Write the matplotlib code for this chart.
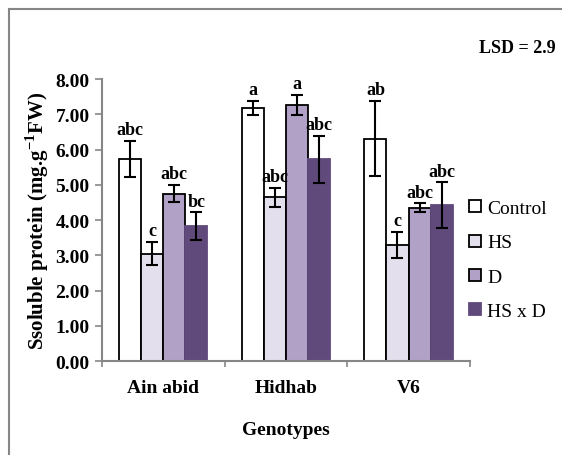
import matplotlib
matplotlib.use("Agg")
import matplotlib.pyplot as plt
from matplotlib.lines import Line2D
import numpy as np

plt.rcParams['font.family'] = ['Liberation Serif', 'DejaVu Serif']
plt.rcParams['mathtext.fontset'] = 'custom'
plt.rcParams['mathtext.rm'] = 'Liberation Serif'
plt.rcParams['mathtext.bf'] = 'Liberation Serif:bold'

genotypes = ["Ain abid", "Hidhab", "V6"]
treatments = ["Control", "HS", "D", "HS x D"]
values = {
    "Control": [5.73, 7.18, 6.31],
    "HS": [3.05, 4.64, 3.30],
    "D": [4.75, 7.27, 4.35],
    "HS x D": [3.82, 5.72, 4.42],
}
errors = {
    "Control": [0.52, 0.20, 1.07],
    "HS": [0.32, 0.27, 0.37],
    "D": [0.24, 0.28, 0.12],
    "HS x D": [0.40, 0.66, 0.65],
}
letters = {
    "Control": ["abc", "a", "ab"],
    "HS": ["c", "abc", "c"],
    "D": ["abc", "a", "abc"],
    "HS x D": ["bc", "abc", "abc"],
}
yticks = [0, 1, 2, 3, 4, 5, 6, 7, 8]
lsd_text = "LSD = 2.9"

colors = {"Control": "#FFFFFF", "HS": "#E4DFEC", "D": "#B2A1C7", "HS x D": "#604A7B"}
edges = {"Control": "black", "HS": "black", "D": "black", "HS x D": "#604A7B"}

fig = plt.figure(figsize=(5.62, 4.56), dpi=100)
ax = fig.add_axes([0.1815, 0.206, 0.6545, 0.6185])

x = np.arange(len(genotypes))
w = 0.18
for k, t in enumerate(treatments):
    xpos = x + (k - 1.5) * w
    ax.bar(xpos, values[t], width=w, color=colors[t], edgecolor=edges[t],
           linewidth=1.3, zorder=2)
    ax.errorbar(xpos, values[t], yerr=errors[t], fmt='none', ecolor='black',
                elinewidth=1.5, capsize=4.5, capthick=1.5, zorder=3)
    for xi, v, e, lab in zip(xpos, values[t], errors[t], letters[t]):
        ax.annotate(lab, (xi, v + e), xytext=(0, 2), textcoords='offset points',
                    ha='center', va='bottom', fontsize=13, fontweight='bold',
                    annotation_clip=False, zorder=4)

ax.set_xlim(-0.5, len(genotypes) - 0.5)
ax.set_ylim(0, 8)
ax.set_yticks(yticks)
ax.set_yticklabels([f"{v:.2f}" for v in yticks], fontsize=14, fontweight='bold')
ax.set_xticks(np.arange(-0.5, len(genotypes), 1.0))
ax.set_xticklabels([])
ax.set_xticks(x, minor=True)
ax.set_xticklabels(genotypes, minor=True, fontsize=14, fontweight='bold')
ax.tick_params(axis='x', which='major', length=4, color='#868686', width=1.2)
ax.tick_params(axis='x', which='minor', length=0, pad=13)
ax.tick_params(axis='y', length=5, color='#868686', width=1.2, pad=4)
for s in ['top', 'right']:
    ax.spines[s].set_visible(False)
for s in ['left', 'bottom']:
    ax.spines[s].set_color('#868686')
    ax.spines[s].set_linewidth(1.5)

ax.set_ylabel(r"Ssoluble protein (mg.g$^{\mathbf{-1}}$FW)", fontsize=15,
              fontweight='bold', labelpad=3)
ax.set_xlabel("Genotypes", fontsize=14, fontweight='bold', labelpad=18)

handles = [Line2D([0], [0], marker='s', linestyle='none', markersize=8,
                  markerfacecolor=colors[t],
                  markeredgecolor='black' if t != "HS x D" else colors[t],
                  markeredgewidth=1.3) for t in treatments]
fig.legend(handles, treatments, loc='upper left', bbox_to_anchor=(0.817, 0.577),
           frameon=False, fontsize=14, handlelength=0.8, handletextpad=0.25,
           labelspacing=0.85, borderaxespad=0)

fig.text(0.988, 0.893, lsd_text, ha='right', va='center', fontsize=13,
         fontweight='bold')

# chart-area frame (top and left edges visible)
fig.add_artist(Line2D([9/562, 1.0], [1 - 10/456, 1 - 10/456], color='#868686',
                      linewidth=1.5, transform=fig.transFigure))
fig.add_artist(Line2D([9/562, 9/562], [0.0, 1 - 10/456], color='#868686',
                      linewidth=1.5, transform=fig.transFigure))

fig.savefig("out.png", dpi=100)
